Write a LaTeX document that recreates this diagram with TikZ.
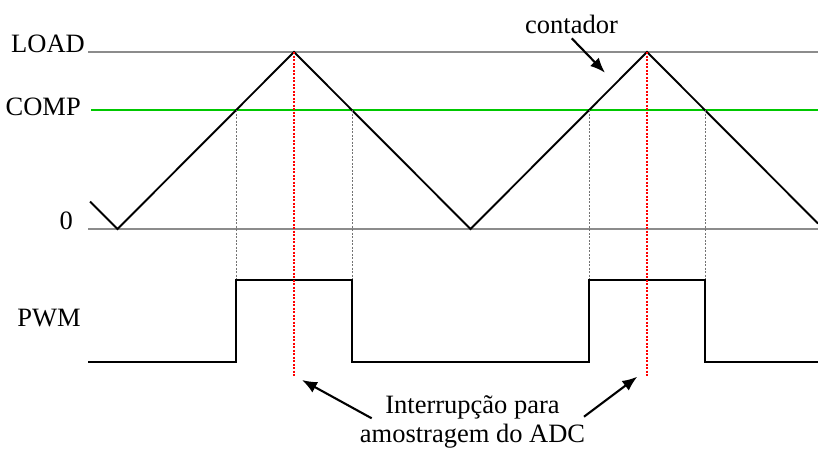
\documentclass[tikz,border=0pt]{standalone}
\usepackage{fontspec}
\setmainfont{Liberation Serif}
\usetikzlibrary{arrows.meta,positioning}
\definecolor{compgreen}{RGB}{0,200,0}

\begin{document}
\begin{tikzpicture}[x=1pt, y=-1pt, lbl/.style={inner sep=0pt, font=\fontsize{26.5}{29}\selectfont}, level/.style={draw=black!45, line width=1.8pt}, compline/.style={draw=compgreen, line width=1.8pt}, wave/.style={draw=black, line width=1.9pt, line join=miter}, guide/.style={draw=black!55, line width=1pt, dash pattern=on 2pt off 1.5pt}, sample/.style={draw=red, line width=1.6pt, dash pattern=on 2pt off 1.5pt}, arr/.style={-{Latex[length=15pt, width=12pt]}, line width=2.1pt, draw=black}
]
  \useasboundingbox (0,0) rectangle (818,448);
  \node[lbl, anchor=base east] (load) at (85,52) {LOAD};
  \node[lbl, anchor=base east] (comp) at (81,115) {COMP};
  \node[lbl, anchor=base east] (zero) at (73,229) {0};
  \node[lbl, anchor=base east] (pwm) at (81,326) {PWM};
  \node[lbl, anchor=base] (cnt) at (571.5,33) {contador};
  \node[lbl, anchor=base, align=center] (adc) at (472.5,442) {Interrupção para\\amostragem do ADC};
  \coordinate (l0) at (88,52);   \coordinate (l1) at (818,52);
  \coordinate (c0) at (91,110);  \coordinate (c1) at (818,110);
  \coordinate (z0) at (88,229);  \coordinate (z1) at (818,229);
  \coordinate (up1) at (236.1,110); \coordinate (dn1) at (352,110);
  \coordinate (up2) at (589.1,110); \coordinate (dn2) at (705,110);
  \coordinate (pk1) at (294,52);  \coordinate (pk2) at (647,52);
  \coordinate (hi) at (0,280);    \coordinate (lo) at (0,362);
  \coordinate (s1) at (294,377);  \coordinate (s2) at (647,377);
  \draw[level] (l0) -- (l1);
  \draw[level] (z0) -- (z1);
  \draw[compline] (c0) -- (c1);
  \draw[wave] (90,201.5) -- (117.5,229) -- (pk1) -- (470.5,229) -- (pk2) -- (818,223.5);
  \draw[guide] (up1) -- (up1 |- hi);
  \draw[guide] (dn1) -- (dn1 |- hi);
  \draw[guide] (up2) -- (up2 |- hi);
  \draw[guide] (dn2) -- (dn2 |- hi);
  \draw[wave] (88,362) -- (up1 |- lo) -- (up1 |- hi) -- (dn1 |- hi) -- (dn1 |- lo) -- (up2 |- lo) -- (up2 |- hi) -- (dn2 |- hi) -- (dn2 |- lo) -- (818,362);
  \draw[sample] (pk1) -- (s1);
  \draw[sample] (pk2) -- (s2);
  \coordinate (ta) at (371.7,418.3); \coordinate (tb) at (584,416.7);
  \coordinate (tc) at (571.7,38.3);  \coordinate (hc) at (605,72.7);
  \draw[arr] (ta) -- (302,380);
  \draw[arr] (tb) -- (637.3,376.7);
  \draw[arr] (tc) -- (hc);
\end{tikzpicture}
\end{document}
